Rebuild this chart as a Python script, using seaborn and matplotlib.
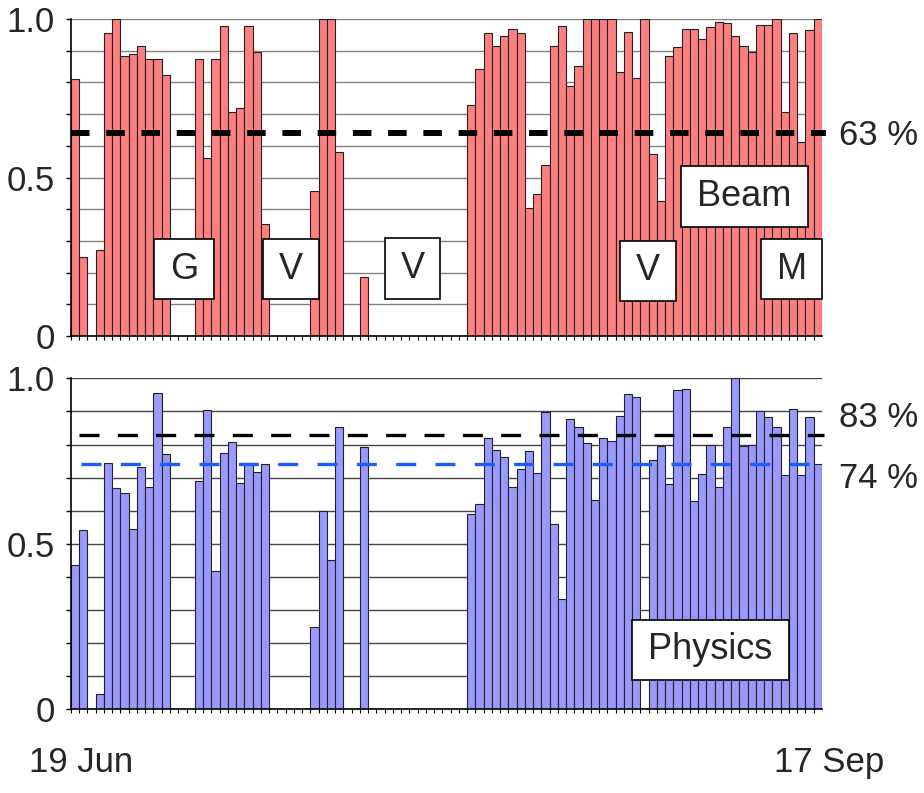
import numpy as np
import pandas as pd
import seaborn as sns
import matplotlib.pyplot as plt
from matplotlib.patches import Rectangle

# one bar per day, 19 Jun .. 17 Sep (91 days)
days = list(range(91))

beam = [0.81, 0.25, 0.0, 0.27, 0.956, 1.0, 0.884, 0.889, 0.916, 0.874,
        0.874, 0.822, 0.0, 0.0, 0.0, 0.874, 0.561, 0.874, 0.978, 0.706,
        0.718, 0.978, 0.895, 0.353, 0.0, 0.0, 0.0, 0.0, 0.0, 0.457,
        1.0, 1.0, 0.582, 0.0, 0.0, 0.187, 0.0, 0.0, 0.0, 0.0,
        0.0, 0.0, 0.0, 0.0, 0.0, 0.0, 0.0, 0.0, 0.728, 0.842,
        0.956, 0.915, 0.947, 0.967, 0.956, 0.405, 0.447, 0.541, 0.915, 0.978,
        0.79, 0.852, 1.0, 1.0, 1.0, 1.0, 0.833, 0.959, 0.813, 1.0,
        0.574, 0.426, 0.884, 0.911, 0.969, 0.967, 0.937, 0.974, 0.99, 0.986,
        0.948, 0.915, 0.895, 0.982, 0.982, 1.0, 0.707, 0.956, 0.612, 0.964,
        1.0]

physics = [0.437, 0.543, 0.0, 0.045, 0.743, 0.67, 0.653, 0.544, 0.733, 0.673,
           0.955, 0.77, 0.0, 0.0, 0.0, 0.691, 0.904, 0.418, 0.775, 0.809,
           0.683, 0.745, 0.716, 0.741, 0.0, 0.0, 0.0, 0.0, 0.0, 0.25,
           0.60, 0.451, 0.854, 0.0, 0.0, 0.794, 0.0, 0.0, 0.0, 0.0,
           0.0, 0.0, 0.0, 0.0, 0.0, 0.0, 0.0, 0.0, 0.589, 0.619,
           0.819, 0.784, 0.763, 0.671, 0.727, 0.781, 0.713, 0.898, 0.561, 0.334,
           0.877, 0.852, 0.806, 0.633, 0.819, 0.812, 0.886, 0.952, 0.945, 0.0,
           0.754, 0.797, 0.68, 0.966, 0.969, 0.63, 0.711, 0.80, 0.673, 0.854,
           1.0, 0.796, 0.80, 0.902, 0.882, 0.852, 0.707, 0.906, 0.707, 0.884,
           0.74]

beam_avg = 0.64
phys_avg_black = 0.829
phys_avg_blue = 0.74

top_labels = ["G", "V", "V", "V", "M"]

sns.set_theme(style="white")
plt.rcParams['font.family'] = ['Liberation Sans', 'DejaVu Sans']

df = pd.DataFrame({"day": days, "beam": beam, "physics": physics})

fig = plt.figure(figsize=(9.24, 7.93), dpi=100)
ax1 = fig.add_axes([0.0768, 0.5763, 0.8128, 0.3997])
ax2 = fig.add_axes([0.0768, 0.1055, 0.8128, 0.4174])

sns.barplot(data=df, x="day", y="beam", color="#ff8080", saturation=1,
            edgecolor="#222222", linewidth=0.8, width=1.0, ax=ax1)
sns.barplot(data=df, x="day", y="physics", color="#9999ff", saturation=1,
            edgecolor="#222222", linewidth=0.8, width=1.0, ax=ax2)

for ax, gc in [(ax1, "#808080"), (ax2, "#444444")]:
    ax.set_xlim(-0.5, 90.5)
    ax.set_ylim(0, 1)
    ax.set_xlabel("")
    ax.set_ylabel("")
    ax.set_axisbelow(True)
    ax.set_yticks([0, 0.5, 1.0])
    ax.set_yticklabels(["0", "0.5", "1.0"])
    ax.set_yticks(np.arange(0, 1.01, 0.1), minor=True)
    ax.grid(True, which="both", axis="y", color=gc, lw=1.0)
    ax.grid(False, axis="x")
    ax.set_xticks([])
    ax.set_xticks(np.arange(-0.5, 90), minor=True)
    ax.tick_params(axis="y", which="both", direction="out", length=3.6,
                   width=1, color="black", left=True, labelsize=25, pad=8)
    ax.tick_params(axis="x", which="minor", direction="out", length=3,
                   width=0.8, color="black", bottom=True)
    for s in ["top", "right"]:
        ax.spines[s].set_visible(False)
    for s in ["left", "bottom"]:
        ax.spines[s].set_color("black")
        ax.spines[s].set_linewidth(1.2)

# average lines
ax1.axhline(beam_avg, xmin=0, xmax=1.006, color="black", lw=4.3,
            ls=(0, (3.1, 2.8)), clip_on=False, zorder=5)
ax2.axhline(phys_avg_black, xmin=0.0107, xmax=1.003, color="black", lw=2.4,
            ls=(0, (6.0, 5.5)), clip_on=False, zorder=5)
ax2.axhline(phys_avg_blue, xmin=0.0133, xmax=1.007, color="#1a5cff", lw=2.4,
            ls=(0, (6.0, 5.8)), clip_on=False, zorder=5)

fig.text(0.908, 0.8285, "63 %", fontsize=25, va="center", ha="left")
fig.text(0.908, 0.4735, "83 %", fontsize=25, va="center", ha="left")
fig.text(0.908, 0.397, "74 %", fontsize=25, va="center", ha="left")


def label_box(ax, x0, x1, y0, y1, text):
    ax.add_patch(Rectangle((x0, y0), x1 - x0, y1 - y0, transform=ax.transAxes,
                           facecolor="white", edgecolor="black", lw=1.2,
                           zorder=6, clip_on=False))
    ax.text((x0 + x1) / 2, (y0 + y1) / 2, text, transform=ax.transAxes,
            fontsize=26, ha="center", va="center", zorder=7)


box_pos = [(0.111, 0.190, 0.116, 0.305),
           (0.256, 0.330, 0.116, 0.305),
           (0.418, 0.492, 0.118, 0.308),
           (0.731, 0.805, 0.111, 0.301),
           (0.919, 1.000, 0.116, 0.305)]
for (x0, x1, y0, y1), t in zip(box_pos, top_labels):
    label_box(ax1, x0, x1, y0, y1, t)
label_box(ax1, 0.812, 0.981, 0.344, 0.535, "Beam")
label_box(ax2, 0.747, 0.956, 0.089, 0.270, "Physics")

fig.text(0.031, 0.027, "19 Jun", fontsize=25, ha="left", va="baseline")
fig.text(0.957, 0.027, "17 Sep", fontsize=25, ha="right", va="baseline")

fig.savefig("out.png", dpi=100)
